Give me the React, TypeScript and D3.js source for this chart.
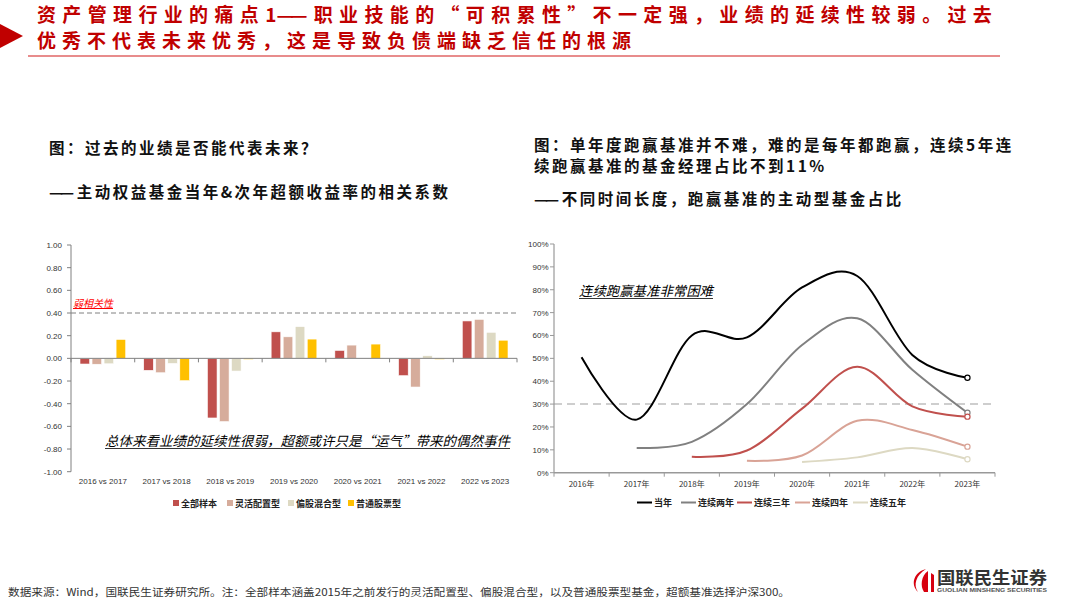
import * as d3 from 'd3';

// 左图：主动权益基金当年&次年超额收益率的相关系数
const periods = ['2016 vs 2017', '2017 vs 2018', '2018 vs 2019', '2019 vs 2020', '2020 vs 2021', '2021 vs 2022', '2022 vs 2023'];
const barSeries = ['全部样本', '灵活配置型', '偏股混合型', '普通股票型'];
const allSample = [-0.05, -0.106, -0.526, 0.234, 0.07, -0.153, 0.33];
const flexible = [-0.052, -0.127, -0.558, 0.19, 0.117, -0.253, 0.344];
const equityHybrid = [-0.048, -0.045, -0.112, 0.28, -0.005, 0.023, 0.23];
const stockFund = [0.167, -0.197, -0.01, 0.17, 0.126, -0.01, 0.16];
const barValues = [allSample, flexible, equityHybrid, stockFund];
const corrTicks = [-1, -0.8, -0.6, -0.4, -0.2, 0, 0.2, 0.4, 0.6, 0.8, 1];

// 右图：跑赢基准的主动型基金占比
const years = ['2016年', '2017年', '2018年', '2019年', '2020年', '2021年', '2022年', '2023年'];
const lineSeries = ['当年', '连续两年', '连续三年', '连续四年', '连续五年'];
const oneYear = [0.505, 0.232, 0.6, 0.592, 0.81, 0.86, 0.515, 0.415];
const twoYears = [null, 0.108, 0.135, 0.3, 0.558, 0.675, 0.45, 0.262];
const threeYears = [null, null, 0.07, 0.097, 0.28, 0.463, 0.29, 0.245];
const fourYears = [null, null, null, 0.052, 0.075, 0.227, 0.187, 0.114];
const fiveYears = [null, null, null, null, 0.047, 0.067, 0.108, 0.059];
const lineValues = [oneYear, twoYears, threeYears, fourYears, fiveYears];
const pctTicks = [0, 0.1, 0.2, 0.3, 0.4, 0.5, 0.6, 0.7, 0.8, 0.9, 1];

const BAR_COLORS = ['#C0504D', '#D6AC9B', '#DDD9C3', '#FFC000'];
const LINE_COLORS = ['#000000', '#808080', '#C0504D', '#D9A396', '#DDD9C3'];

const SANS = 'Liberation Sans, Arial, sans-serif';
const CJK = '"Noto Sans CJK SC", sans-serif';

function BarChart() {
    const x = d3.scaleBand().domain(periods).range([71, 517]);
    const x1 = d3.scaleBand().domain(barSeries).range([9, x.bandwidth() - 9]).paddingInner(0.2);
    const y = d3.scaleLinear().domain([-1, 1]).range([471.7, 245]);
    const legendX = [173, 227, 288, 348];

    return (
        <g>
            {/* 弱相关性 0.4 */}
            <line x1={71} x2={517} y1={y(0.4)} y2={y(0.4)} stroke="#808080" strokeDasharray="5,3" strokeWidth={1} />
            <text x={73} y={y(0.4) - 6} fontSize={10} fill="#FF0000" fontFamily={CJK}
                fontStyle="italic" textDecoration="underline">弱相关性</text>

            {barValues.map((vals, si) => vals.map((v, i) => (
                <rect key={`${si}-${i}`}
                    x={x(periods[i])! + x1(barSeries[si])!}
                    y={y(Math.max(0, v))}
                    width={x1.bandwidth()}
                    height={Math.abs(y(v) - y(0))}
                    fill={BAR_COLORS[si]} stroke="#fff" strokeWidth={0.6} />
            )))}

            {/* y 轴 */}
            <line x1={71} x2={71} y1={y(1)} y2={y(-1)} stroke="#808080" />
            {corrTicks.map(t => (
                <g key={t}>
                    <line x1={67} x2={71} y1={y(t)} y2={y(t)} stroke="#808080" />
                    <text x={62} y={y(t) + 3} fontSize={8} textAnchor="end" fill="#333" fontFamily={SANS}>{t.toFixed(2)}</text>
                </g>
            ))}

            {/* x 轴 */}
            <line x1={71} x2={517} y1={y(0)} y2={y(0)} stroke="#808080" />
            {periods.map((p, i) => (
                <g key={p}>
                    <line x1={x(p)! + x.bandwidth()} x2={x(p)! + x.bandwidth()} y1={y(0)} y2={y(0) + 4} stroke="#808080" />
                    {i === 0 && <line x1={x(p)!} x2={x(p)!} y1={y(0)} y2={y(0) + 4} stroke="#808080" />}
                    <text x={x(p)! + x.bandwidth() / 2} y={484} fontSize={8} textAnchor="middle" fill="#333" fontFamily={SANS}>{p}</text>
                </g>
            ))}

            <text x={105} y={446} fontSize={13.5} fontStyle="italic" fill="#000" fontFamily={CJK}
                textLength={405} lengthAdjust="spacingAndGlyphs">总体来看业绩的延续性很弱，超额或许只是“运气”带来的偶然事件</text>
            <line x1={105} x2={510} y1={448.5} y2={448.5} stroke="#000" strokeWidth={0.8} />

            {barSeries.map((s, i) => (
                <g key={s}>
                    <rect x={legendX[i]} y={500} width={6} height={6} fill={BAR_COLORS[i]} />
                    <text x={legendX[i] + 8} y={506.5} fontSize={9} fontWeight={700} fill="#222" fontFamily={CJK}>{s}</text>
                </g>
            ))}
        </g>
    );
}

function LineChart() {
    const x = d3.scaleBand().domain(years).range([554, 995]);
    const y = d3.scaleLinear().domain([0, 1]).range([472.7, 244]);
    const cx = (i: number) => x(years[i])! + x.bandwidth() / 2;
    const line = d3.line<number | null>()
        .defined(d => d != null)
        .x((_, i) => cx(i))
        .y(d => y(d as number))
        .curve(d3.curveCardinal.tension(0));
    const legendX = [637, 681, 737, 795, 853];
    const last = years.length - 1;

    return (
        <g>
            <line x1={554} x2={995} y1={y(0.3)} y2={y(0.3)} stroke="#BFBFBF" strokeDasharray="8,5" strokeWidth={1.5} />

            <text x={579} y={296} fontSize={13.5} fontStyle="italic" fill="#000" fontFamily={CJK}
                textLength={134} lengthAdjust="spacingAndGlyphs">连续跑赢基准非常困难</text>
            <line x1={579} x2={713} y1={298.5} y2={298.5} stroke="#000" strokeWidth={0.8} />

            {lineValues.map((vals, si) => (
                <g key={lineSeries[si]}>
                    <path d={line(vals)!} fill="none" stroke={LINE_COLORS[si]} strokeWidth={2} />
                    <circle cx={cx(last)} cy={y(vals[last] as number)} r={2.6} fill="#fff" stroke={LINE_COLORS[si]} strokeWidth={1.2} />
                </g>
            ))}

            {/* 轴 */}
            <line x1={554} x2={554} y1={y(1)} y2={y(0)} stroke="#999" strokeWidth={1.2} />
            {pctTicks.map(t => (
                <g key={t}>
                    <line x1={550} x2={554} y1={y(t)} y2={y(t)} stroke="#999" />
                    <text x={548.5} y={y(t) + 3} fontSize={8} textAnchor="end" fill="#333" fontFamily={SANS}>{Math.round(t * 100)}%</text>
                </g>
            ))}
            <line x1={554} x2={995} y1={y(0)} y2={y(0)} stroke="#999" strokeWidth={1.6} />
            {years.map((yr, i) => (
                <g key={yr}>
                    <line x1={x(yr)!} x2={x(yr)!} y1={y(0)} y2={y(0) + 4} stroke="#999" />
                    {i === last && <line x1={995} x2={995} y1={y(0)} y2={y(0) + 4} stroke="#999" />}
                    <text x={cx(i)} y={487} fontSize={8} textAnchor="middle" fill="#333" fontFamily={CJK}>{yr}</text>
                </g>
            ))}

            {lineSeries.map((s, i) => (
                <g key={s}>
                    <line x1={legendX[i]} x2={legendX[i] + 15} y1={502.5} y2={502.5} stroke={LINE_COLORS[i]} strokeWidth={2} />
                    <text x={legendX[i] + 17} y={506} fontSize={9} fontWeight={700} fill="#222" fontFamily={CJK}>{s}</text>
                </g>
            ))}
        </g>
    );
}

const TITLE_LS = 6;
const SUB_LS = 2.5;

export default function App() {
    const subProps = { fontSize: 15.5, fontWeight: 700, fill: '#111', fontFamily: CJK, letterSpacing: SUB_LS };
    return (
        <svg width={1080} height={607} style={{ position: 'absolute', left: 0, top: 0, background: '#fff' }}>
            {/* 页眉 */}
            <path d="M0,24 L23,36 L0,48 Z" fill="#C00000" />
            <text x={37} y={22} fontSize={19} fontWeight={700} fill="#C00000" fontFamily={CJK} letterSpacing={6.35}>
                资产管理行业的痛点<tspan letterSpacing={0}>1</tspan><tspan letterSpacing={-3.5}>—</tspan><tspan letterSpacing={6.35}>—职业技能的“可积累性”不一定强，业绩的延续性较弱。过去</tspan>
            </text>
            <text x={37} y={48} fontSize={19} fontWeight={700} fill="#C00000" fontFamily={CJK} letterSpacing={TITLE_LS}>
                优秀不代表未来优秀，这是导致负债端缺乏信任的根源
            </text>
            <line x1={28} x2={1000} y1={56} y2={56} stroke="#E06666" strokeWidth={1.6} />

            {/* 左图标题 */}
            <text x={49} y={154} {...subProps}>图：过去的业绩是否能代表未来？</text>
            <text x={49} y={198} {...subProps}>
                <tspan letterSpacing={-3}>—</tspan><tspan letterSpacing={SUB_LS}>—主动权益基金当年&amp;次年超额收益率的相关系数</tspan>
            </text>

            {/* 右图标题 */}
            <text x={534} y={151} {...subProps}>图：单年度跑赢基准并不难，难的是每年都跑赢，连续5年连</text>
            <text x={534} y={172} {...subProps}>续跑赢基准的基金经理占比不到11%</text>
            <text x={534} y={205} {...subProps}>
                <tspan letterSpacing={-3}>—</tspan><tspan letterSpacing={SUB_LS}>—不同时间长度，跑赢基准的主动型基金占比</tspan>
            </text>

            <BarChart />
            <LineChart />

            {/* 页脚 */}
            <text x={8} y={596} fontSize={10.5} fill="#333" fontFamily={CJK}
                textLength={782} lengthAdjust="spacingAndGlyphs">数据来源：Wind，国联民生证券研究所。注：全部样本涵盖2015年之前发行的灵活配置型、偏股混合型，以及普通股票型基金，超额基准选择沪深300。</text>

            {/* logo */}
            <path d="M926,569 C914,572 910,584 918,592 C913,585 916,575 926,569 Z" fill="#D7000F" />
            <path d="M928,571 C921,576 920,586 924,592 L928,592 Z" fill="#D7000F" />
            <path d="M931,573 L931,592 L934,592 L934,575 Z" fill="#D7000F" />
            <text x={937} y={584} fontSize={17} fontWeight={700} fill="#333" fontFamily={CJK}
                textLength={110} lengthAdjust="spacingAndGlyphs">国联民生证券</text>
            <text x={937} y={592} fontSize={5} fontWeight={700} fill="#555" fontFamily={SANS}
                textLength={110} lengthAdjust="spacingAndGlyphs">GUOLIAN MINSHENG SECURITIES</text>
        </svg>
    );
}
